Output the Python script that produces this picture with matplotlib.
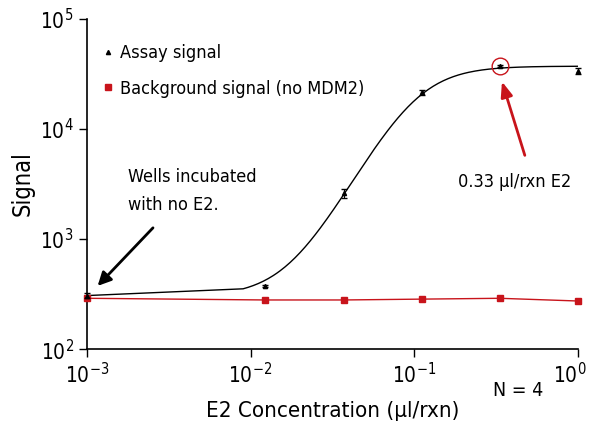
import numpy as np
import matplotlib
matplotlib.use("Agg")
import matplotlib.pyplot as plt
import matplotlib.transforms as mtransforms
from matplotlib.lines import Line2D

plt.rcParams['font.family'] = ['DejaVu Sans']
plt.rcParams['font.stretch'] = 'condensed'
plt.rcParams['mathtext.fontset'] = 'custom'
plt.rcParams['mathtext.rm'] = 'DejaVu Sans:stretch=condensed'

# E2 concentration (ul/rxn), 3-fold dilutions + no-E2 wells plotted at 1e-3
conc = [0.001, 0.0123, 0.037, 0.111, 0.333, 1.0]
assay = [307, 375, 2600, 21500, 37500, 33500]
assay_err = [15, 10, 250, 1200, 1000, 2000]
background = [290, 280, 280, 285, 290, 274]
bg_err = [10, 8, 8, 8, 8, 10]

# 4PL fit parameters
fit_bottom = 300
fit_top = 37200
fit_ec50 = 0.103
fit_hill = 2.68

x_ticks = [1e-3, 1e-2, 1e-1, 1e0]
x_labels = ['$\\mathregular{10^{-3}}$', '$\\mathregular{10^{-2}}$',
            '$\\mathregular{10^{-1}}$', '$\\mathregular{10^{0}}$']
y_ticks = [1e2, 1e3, 1e4, 1e5]
y_labels = ['$\\mathregular{10^{2}}$', '$\\mathregular{10^{3}}$',
            '$\\mathregular{10^{4}}$', '$\\mathregular{10^{5}}$']

RED = '#c8141b'

fig = plt.figure(figsize=(5.92, 4.29), dpi=100)
ax = fig.add_axes([0.147, 0.186, 0.829, 0.770])

# fit curve: first sample at the no-E2 point, then the fitted range
xf = np.concatenate([[0.001], np.logspace(np.log10(0.009), 0, 200)])
yf = fit_bottom + (fit_top - fit_bottom) * xf**fit_hill / (fit_ec50**fit_hill + xf**fit_hill)
yf[0] = 307
ax.plot(xf, yf, color='black', lw=1.0)

ax.plot(conc, background, color=RED, lw=1.0)
ax.errorbar(conc, background, yerr=bg_err, fmt='s', color=RED, ms=4,
            capsize=2, elinewidth=0.8, clip_on=False, zorder=4)
ax.errorbar(conc, assay, yerr=assay_err, fmt='^', color='black', ms=3,
            capsize=2, elinewidth=0.8, clip_on=False, zorder=5)

# highlighted point
ax.plot([conc[4]], [assay[4]], 'o', ms=12, mfc='none', mec=RED, mew=1.0)

ax.set_xscale('log')
ax.set_yscale('log')
ax.set_xlim(1e-3, 1)
ax.set_ylim(1e2, 1e5)
ax.set_xticks(x_ticks)
ax.set_xticklabels(x_labels)
ax.set_yticks(y_ticks)
ax.set_yticklabels(y_labels)
ax.minorticks_off()
ax.tick_params(axis='both', labelsize=15, length=6, width=1, direction='out')
ax.tick_params(axis='x', pad=3)
for s in ['top', 'right']:
    ax.spines[s].set_visible(False)
for s in ['left', 'bottom']:
    ax.spines[s].set_linewidth(1.2)

# keep the last x tick label inside the canvas
last = ax.get_xticklabels()[-1]
last.set_transform(last.get_transform() +
                   mtransforms.ScaledTranslation(-6 / 72, 0, fig.dpi_scale_trans))

ax.set_xlabel('E2 Concentration (µl/rxn)', fontsize=16, labelpad=10)
ax.set_ylabel('Signal', fontsize=17)
ax.yaxis.set_label_coords(-0.106, 0.5)

handles = [Line2D([], [], ls='none', marker='^', color='black', ms=3),
           Line2D([], [], ls='none', marker='s', color=RED, ms=4)]
ax.legend(handles, ['Assay signal', 'Background signal (no MDM2)'],
          loc='upper left', bbox_to_anchor=(0.0, 0.972), frameon=False,
          fontsize=13, handlelength=0.5, handletextpad=0.4, labelspacing=0.95)

ax.annotate('', xy=(0.00113, 360), xytext=(0.0026, 1320),
            arrowprops=dict(arrowstyle='-|>,head_length=0.8,head_width=0.4',
                            color='black', lw=2))
ax.text(0.00178, 2750, 'Wells incubated\nwith no E2.', fontsize=13,
        ha='left', va='center', linespacing=1.7)

ax.annotate('', xy=(0.34, 28500), xytext=(0.48, 5450),
            arrowprops=dict(arrowstyle='-|>,head_length=0.9,head_width=0.35',
                            color=RED, lw=2))
ax.text(0.185, 3300, '0.33 µl/rxn E2', fontsize=13, ha='left', va='center')

fig.text(493 / 592, 1 - 390 / 429, 'N = 4', fontsize=14, ha='left', va='center')

fig.savefig('out.png', dpi=100)
